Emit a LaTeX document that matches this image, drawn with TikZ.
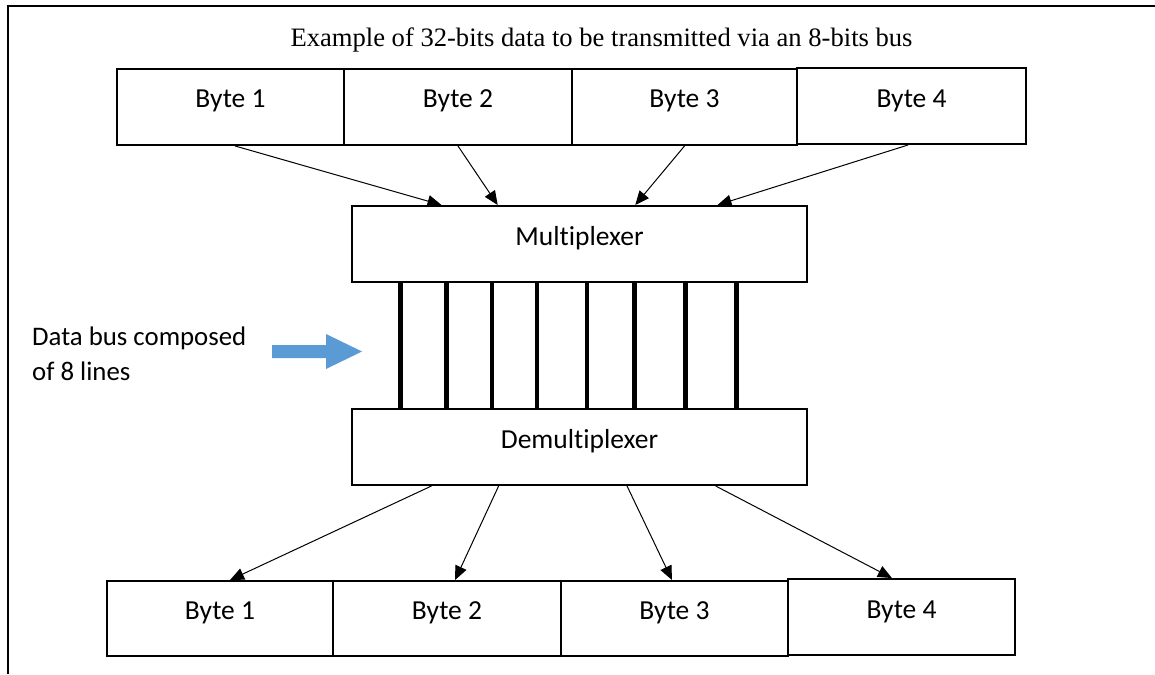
\documentclass[tikz,border=0pt]{standalone}
\usepackage{fontspec}
\setmainfont{Carlito}[Ligatures=NoCommon]
\newfontfamily\titlefont{Liberation Serif}
\usetikzlibrary{arrows.meta,calc}
\definecolor{busblue}{HTML}{5B9BD5}
\tikzset{
  unitbox/.style={draw, line width=2pt, rectangle, inner sep=0pt,
    minimum height=76pt, text height=18pt, text depth=16pt,
    font=\fontsize{27.5}{33}\selectfont},
  flow/.style={line width=1pt, -{Triangle[length=14pt,width=12pt]}},
  busline/.style={line width=4.5pt},
}
\begin{document}
\begin{tikzpicture}[x=1pt, y=-1pt]
\useasboundingbox (0,0) rectangle (1155,674);
\fill[white] (0,0) rectangle (1155,674);

% page frame (top and left edges only)
\coordinate (frameR) at (1155,6);
\coordinate (frameC) at (8,6);
\coordinate (frameB) at (8,674);
\draw[line width=2pt] (frameR) -- (frameC) -- (frameB);

% heading
\node[anchor=base, inner sep=0pt, font=\titlefont\fontsize{26.6}{32}\selectfont] (title) at (601.5,47)
  {Example of 32-bits data to be transmitted via an 8-bits bus};

% source bytes
\node[unitbox, minimum width=227pt] (t1) at (230.5,107) {Byte 1};
\node[unitbox, minimum width=228pt] (t2) at (458,107) {Byte 2};
\node[unitbox, minimum width=225pt] (t3) at (684.5,107) {Byte 3};
\node[unitbox, minimum width=229pt] (t4) at (911.5,106) {Byte 4};

% multiplexer / demultiplexer
\node[unitbox, minimum width=455pt] (mux) at (579.5,244) {Multiplexer};
\node[unitbox, minimum width=455pt] (demux) at (579.5,447) {Demultiplexer};

% received bytes
\node[unitbox, minimum width=226pt, minimum height=75pt] (u1) at (220,618.5) {Byte 1};
\node[unitbox, minimum width=228pt, minimum height=75pt] (u2) at (447,618.5) {Byte 2};
\node[unitbox, minimum width=227pt, minimum height=75pt] (u3) at (674.5,618.5) {Byte 3};
\node[unitbox, minimum width=227pt] (u4) at (901.5,617) {Byte 4};

% bytes into the multiplexer
\draw[flow] ($(t1.south west)!0.52!(t1.south east)$) -- ($(mux.north west)!0.198!(mux.north east)$);
\draw[flow] (t2.south) -- ($(mux.north west)!0.321!(mux.north east)$);
\draw[flow] (t3.south) -- ($(mux.north west)!0.622!(mux.north east)$);
\draw[flow] ($(t4.south west)!0.485!(t4.south east)$) -- ($(mux.north west)!0.802!(mux.north east)$);

% eight-line data bus
\foreach \f in {0.108,0.209,0.308,0.407,0.516,0.620,0.732,0.844}
  \draw[busline] ($(mux.south west)!\f!(mux.south east)$) -- ($(demux.north west)!\f!(demux.north east)$);

% demultiplexer out to the bytes
\draw[flow] ($(demux.south west)!0.176!(demux.south east)$) -- ($(u1.north west)!0.544!(u1.north east)$);
\draw[flow] ($(demux.south west)!0.323!(demux.south east)$) -- ($(u2.north west)!0.535!(u2.north east)$);
\draw[flow] ($(demux.south west)!0.604!(demux.south east)$) -- ($(u3.north west)!0.489!(u3.north east)$);
\draw[flow] ($(demux.south west)!0.798!(demux.south east)$) -- ($(u4.north west)!0.458!(u4.north east)$);

% bus annotation with block arrow
\node[anchor=base west, inner sep=0pt, font=\fontsize{26.8}{35}\selectfont] (note1) at (32,345) {Data bus composed};
\node[anchor=base west, inner sep=0pt, font=\fontsize{26.8}{35}\selectfont] (note2) at (32,380) {of 8 lines};
\fill[busblue] (272,345) -- (326,345) -- (326,334) -- (362,351.5) -- (326,369) -- (326,358) -- (272,358) -- cycle;
\end{tikzpicture}
\end{document}
